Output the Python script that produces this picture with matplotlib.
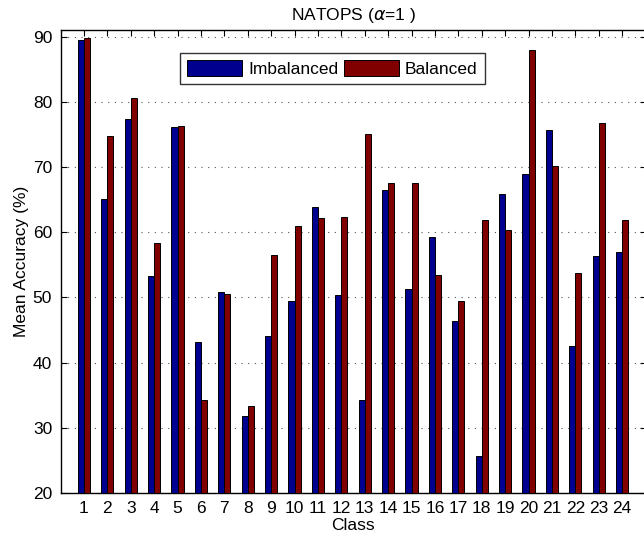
import numpy as np
import matplotlib
matplotlib.use("Agg")
import matplotlib.pyplot as plt

# data
classes = np.arange(1, 25)
imbalanced = [89.4, 65.1, 77.4, 53.3, 76.1, 43.1, 50.8, 31.8, 44.0, 49.5, 63.8, 50.3,
              34.3, 66.4, 51.3, 59.3, 46.3, 25.7, 65.9, 68.9, 75.6, 42.6, 56.3, 57.0]
balanced = [89.8, 74.8, 80.6, 58.3, 76.3, 34.2, 50.5, 33.3, 56.5, 61.0, 62.1, 62.3,
            75.1, 67.6, 67.6, 53.5, 49.5, 61.9, 60.4, 87.9, 70.1, 53.8, 76.8, 61.9]

plt.rcParams['font.family'] = ['Liberation Sans', 'DejaVu Sans']

fig = plt.figure(figsize=(6.44, 5.41), dpi=100)
ax = fig.add_axes([60.5 / 644, 48 / 541, 585 / 644, 463 / 541])

w = 0.26
ax.bar(classes - w / 2, imbalanced, width=w, color='#00008f', edgecolor='black',
       linewidth=0.7, label='Imbalanced', zorder=3)
ax.bar(classes + w / 2, balanced, width=w, color='#800000', edgecolor='black',
       linewidth=0.7, label='Balanced', zorder=3)

ax.set_xlim(0, 25)
ax.set_ylim(20, 91)
ax.set_xticks(classes)
ax.set_yticks(range(20, 91, 10))
ax.tick_params(direction='in', top=True, right=True, labelsize=12.5, length=4, pad=6)
ax.yaxis.grid(True, linestyle=(0, (1, 5)), color='#555555', linewidth=0.8, zorder=0)
for s in ax.spines.values():
    s.set_linewidth(1.0)

ax.set_title('NATOPS ($\\alpha$=1 )', fontsize=12.5, pad=7)
ax.set_xlabel('Class', fontsize=12.5, labelpad=1)
ax.set_ylabel('Mean Accuracy (%)', fontsize=12.5, labelpad=3)

leg = ax.legend(loc='center', bbox_to_anchor=(0.465, 0.917), ncol=2, fontsize=12.5,
                frameon=True, fancybox=False, edgecolor='black', handlelength=3.15,
                handleheight=1.1, columnspacing=0.35, handletextpad=0.35,
                borderpad=0.4, borderaxespad=0)
leg.get_frame().set_linewidth(1.0)

fig.savefig('out.png', dpi=100)
